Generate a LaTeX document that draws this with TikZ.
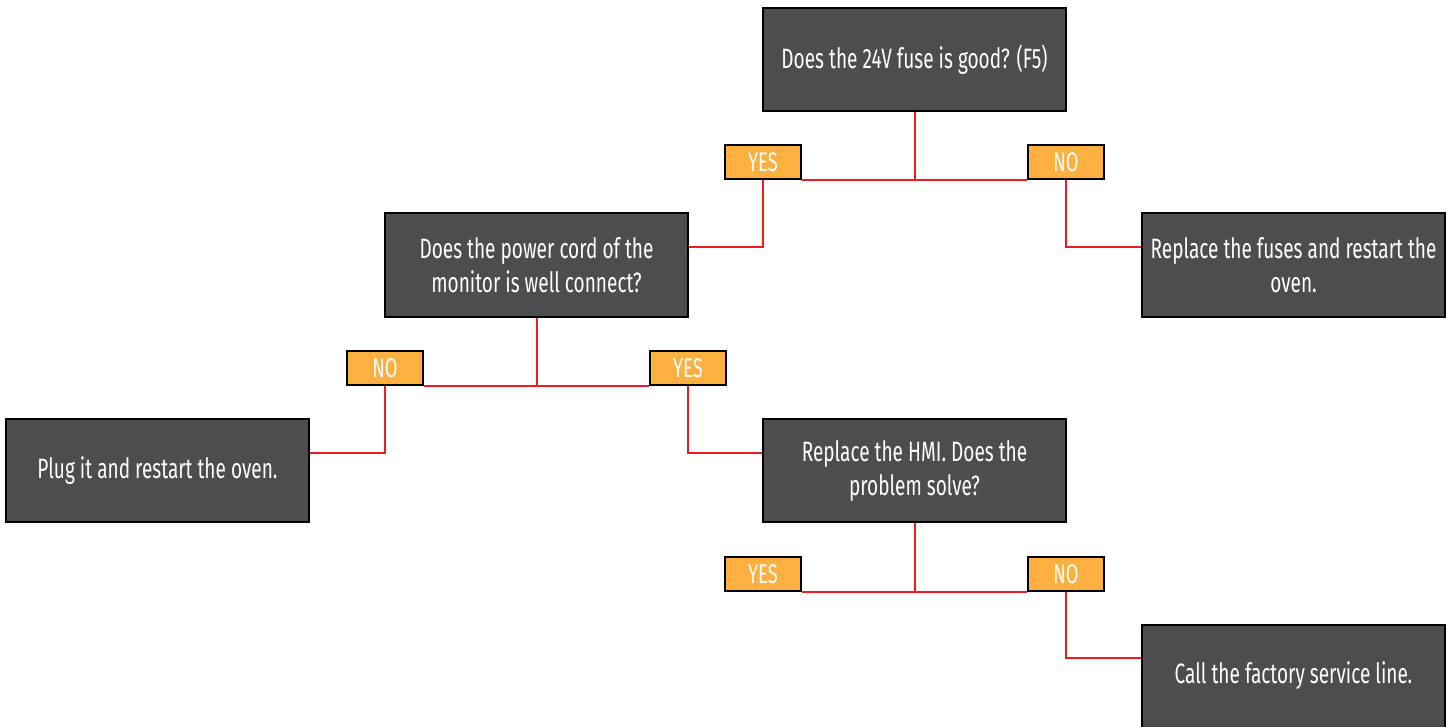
\documentclass[tikz,border=0pt]{standalone}
\usepackage{fontspec}
\setmainfont[FakeStretch=0.68]{Fira Sans}
\definecolor{boxgray}{HTML}{4D4D4F}
\definecolor{lblorange}{HTML}{FBB040}
\definecolor{linered}{HTML}{ED1C24}
\begin{document}
\begin{tikzpicture}[x=1pt,y=-1pt,
  qbox/.style={draw=black,line width=2pt,fill=boxgray,text=white,minimum width=303pt,minimum height=103pt,inner sep=0pt,align=center,font=\fontsize{28}{34}\selectfont},
  lbl/.style={draw=black,line width=2pt,fill=lblorange,text=white,minimum width=76pt,minimum height=34pt,inner sep=0pt,font=\fontsize{27}{30}\selectfont},
  conn/.style={draw=linered,line width=2pt}]
\useasboundingbox (0,0) rectangle (1450,727);
\node[qbox] (q1) at (914.5,59.5) {Does the 24V fuse is good? (F5)};
\node[qbox] (q2) at (536.5,265) {Does the power cord of the\\monitor is well connect?};
\node[qbox] (a1) at (1293.5,265) {Replace the fuses and restart the\\oven.};
\node[qbox] (a2) at (157.5,470.5) {Plug it and restart the oven.};
\node[qbox] (q3) at (914.5,470.5) {Replace the HMI. Does the\\problem solve?};
\node[qbox] (a3) at (1293.5,676) {Call the factory service line.};
\node[lbl] (y1) at (763,162.5) {YES};
\node[lbl] (n1) at (1066,162.5) {NO};
\node[lbl] (n2) at (385,368) {NO};
\node[lbl] (y2) at (688,368) {YES};
\node[lbl] (y3) at (763,574) {YES};
\node[lbl] (n3) at (1066,574) {NO};
% connectors
\coordinate (j1) at (q1.south |- y1.south);
\coordinate (j2) at (q2.south |- n2.south);
\coordinate (j3) at (q3.south |- y3.south);
\draw[conn] (q1.south) -- (j1);
\draw[conn] (y1.south east) -- (n1.south west);
\draw[conn] (y1.south) |- ([yshift=18pt]q2.east);
\draw[conn] (n1.south) |- ([yshift=18pt]a1.west);
\draw[conn] (q2.south) -- (j2);
\draw[conn] (n2.south east) -- (y2.south west);
\draw[conn] (n2.south) |- ([yshift=18pt]a2.east);
\draw[conn] (y2.south) |- ([yshift=18pt]q3.west);
\draw[conn] (q3.south) -- (j3);
\draw[conn] (y3.south east) -- (n3.south west);
\draw[conn] (n3.south) |- ([yshift=18pt]a3.west);
\end{tikzpicture}
\end{document}
